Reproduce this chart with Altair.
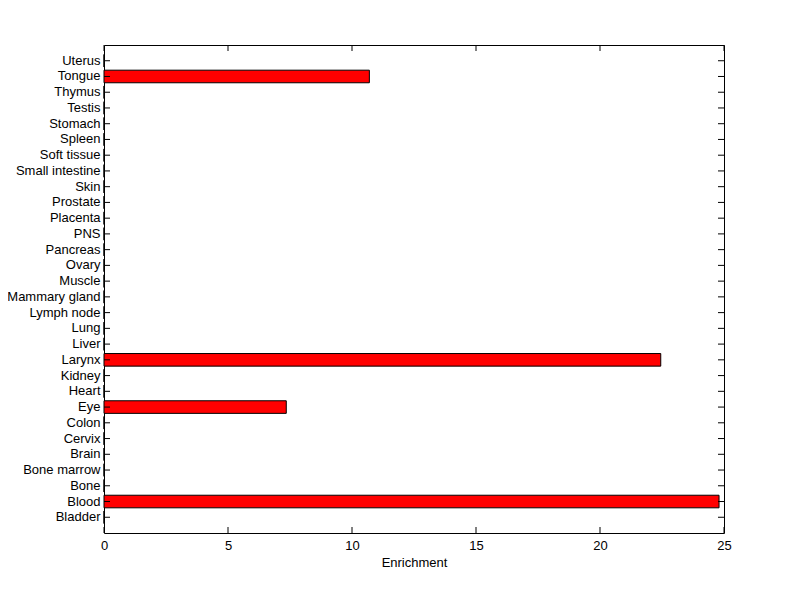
import altair as alt
import pandas as pd

categories = ["Bladder", "Blood", "Bone", "Bone marrow", "Brain", "Cervix", "Colon", "Eye",
              "Heart", "Kidney", "Larynx", "Liver", "Lung", "Lymph node", "Mammary gland",
              "Muscle", "Ovary", "Pancreas", "PNS", "Placenta", "Prostate", "Skin",
              "Small intestine", "Soft tissue", "Spleen", "Stomach", "Testis", "Thymus",
              "Tongue", "Uterus"]
values = [0, 24.8, 0, 0, 0, 0, 0, 7.35, 0, 0, 22.45, 0, 0, 0, 0, 0, 0, 0, 0, 0, 0, 0,
          0, 0, 0, 0, 0, 0, 10.7, 0]
x_ticks = [0, 5, 10, 15, 20, 25]

W, H = 620, 488

df = pd.DataFrame({"cat": categories, "val": values})
tdf = pd.DataFrame({"t": x_ticks})

order = list(reversed(categories))
yscale = alt.Scale(domain=order, paddingInner=0.2, paddingOuter=0.6)
xscale = alt.Scale(domain=[0, 25], nice=False)

font = "Liberation Sans"
fs = 13

bars = alt.Chart(df).mark_bar(color="#ff0000", stroke="black", strokeWidth=1).encode(
    x=alt.X("val:Q", scale=xscale,
            axis=alt.Axis(values=x_ticks, title="Enrichment", ticks=False, grid=False,
                          domain=False, labelPadding=6, titlePadding=4, labelFlush=False,
                          labelFont=font, titleFont=font, labelFontSize=fs,
                          titleFontSize=fs, titleFontWeight="normal",
                          labelColor="black", titleColor="black")),
    y=alt.Y("cat:N", scale=yscale, sort=order,
            axis=alt.Axis(title=None, ticks=False, grid=False, domain=False,
                          labelPadding=4, labelFont=font, labelFontSize=fs,
                          labelColor="black")),
)

ytick_l = alt.Chart(df).mark_rule(color="black", strokeWidth=1).encode(
    y=alt.Y("cat:N", scale=yscale, sort=order, bandPosition=0.5),
    x=alt.value(0), x2=alt.value(6))
ytick_r = alt.Chart(df).mark_rule(color="black", strokeWidth=1).encode(
    y=alt.Y("cat:N", scale=yscale, sort=order, bandPosition=0.5),
    x=alt.value(W - 6), x2=alt.value(W))
xtick_b = alt.Chart(tdf).mark_rule(color="black", strokeWidth=1).encode(
    x=alt.X("t:Q", scale=xscale), y=alt.value(H - 6), y2=alt.value(H))
xtick_t = alt.Chart(tdf).mark_rule(color="black", strokeWidth=1).encode(
    x=alt.X("t:Q", scale=xscale), y=alt.value(0), y2=alt.value(6))

chart = alt.layer(bars, ytick_l, ytick_r, xtick_b, xtick_t).properties(
    width=W, height=H,
    autosize=alt.AutoSizeParams(type="none"),
    padding={"left": 96, "top": 37, "right": 60, "bottom": 60},
    background="white",
).configure_view(stroke="black", strokeWidth=1)

chart.save("out.html", embed_options={"renderer": "svg", "actions": False})
